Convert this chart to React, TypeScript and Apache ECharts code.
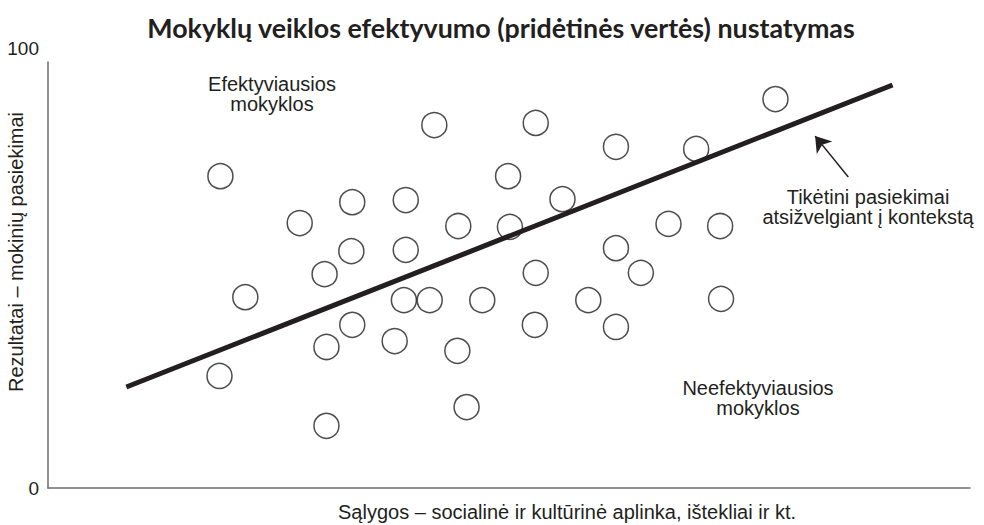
import React, { useEffect, useRef } from "react";
import * as echarts from "echarts";

const titleText = "Mokyklų veiklos efektyvumo (pridėtinės vertės) nustatymas";
const xAxisName = "Sąlygos – socialinė ir kultūrinė aplinka, ištekliai ir kt.";
const yAxisName = "Rezultatai – mokinių pasiekimai";
const yTicks = [0, 100];

const schoolX = [
  18.7, 21.4, 18.6, 27.3, 33.0, 32.9, 30.0, 30.2, 33.0, 30.2,
  38.8, 38.8, 38.6, 41.4, 37.6, 41.9, 44.5, 47.1, 44.4, 45.4,
  52.9, 49.9, 50.1, 55.8, 52.9, 52.8, 58.6, 61.6, 61.6, 64.3,
  61.6, 67.3, 70.3, 72.9, 73.0, 78.9,
];
const schoolY = [
  73.2, 44.8, 26.3, 62.2, 67.1, 55.6, 50.2, 33.1, 38.3, 14.6,
  67.6, 55.9, 44.1, 44.1, 34.5, 85.2, 61.5, 44.1, 32.2, 19.0,
  85.7, 73.2, 61.3, 67.8, 50.5, 38.3, 44.1, 80.1, 56.3, 50.5,
  37.8, 62.0, 79.6, 61.5, 44.4, 91.3,
];

const trendX = [8.5, 91.6];
const trendY = [23.7, 94.6];

const arrowFrom = [86.8, 73.0];
const arrowTo = [83.2, 82.6];

const labelTop = "Efektyviausios\nmokyklos";
const labelBottom = "Neefektyviausios\nmokyklos";
const labelLine = "Tikėtini pasiekimai\natsižvelgiant į kontekstą";

const INK = "#231f20";
const AXIS = "#6d6d6d";
const FONT = "Liberation Sans";

export default function App() {
  const ref = useRef<HTMLDivElement>(null);

  useEffect(() => {
    if (!ref.current) return;
    const chart = echarts.init(ref.current, null, { renderer: "svg" });
    const points = schoolX.map((x, i) => [x, schoolY[i]]);
    const trend = trendX.map((x, i) => [x, trendY[i]]);

    chart.setOption({
      animation: false,
      backgroundColor: "#ffffff",
      textStyle: { fontFamily: FONT },
      title: {
        text: titleText,
        left: 496,
        top: 9,
        textAlign: "center",
        textStyle: {
          fontFamily: "Lato",
          fontWeight: "bold",
          fontSize: 26.8,
          color: INK,
        },
      },
      grid: {
        left: 48,
        right: 14,
        top: 62,
        bottom: 37,
        containLabel: false,
        outerBoundsMode: "none",
      },
      xAxis: {
        type: "value",
        min: 0,
        max: 100,
        name: xAxisName,
        nameLocation: "middle",
        nameGap: 14,
        nameMoveOverlap: false,
        nameTextStyle: {
          fontFamily: FONT,
          fontSize: 20,
          color: INK,
          padding: [0, 0, 0, 116],
        },
        axisLine: { show: true, lineStyle: { color: AXIS, width: 1.5 } },
        axisTick: { show: false },
        axisLabel: { show: false },
        splitLine: { show: false },
      },
      yAxis: {
        type: "value",
        min: yTicks[0],
        max: yTicks[yTicks.length - 1],
        interval: 100,
        name: yAxisName,
        nameLocation: "middle",
        nameGap: 22,
        nameMoveOverlap: false,
        nameTextStyle: {
          fontFamily: FONT,
          fontSize: 20,
          color: INK,
          padding: [0, 0, 0, 46],
        },
        axisLine: { show: true, lineStyle: { color: AXIS, width: 1.5 } },
        axisTick: { show: false },
        splitLine: { show: false },
        axisLabel: {
          margin: 9,
          fontFamily: FONT,
          fontSize: 19,
          color: INK,
          formatter: (v: number) => (v === yTicks[1] ? "{top|" + v + "}" : "{base|" + v + "}"),
          rich: {
            top: { fontFamily: FONT, fontSize: 19, color: INK, padding: [0, 0, 28, 0] },
            base: { fontFamily: FONT, fontSize: 19, color: INK },
          },
        },
      },
      graphic: [
        {
          type: "text",
          x: 272,
          y: 74,
          silent: true,
          style: {
            text: labelTop,
            fontFamily: FONT,
            fontSize: 20,
            lineHeight: 20,
            fill: INK,
            align: "center",
            verticalAlign: "top",
          },
        },
        {
          type: "text",
          x: 868,
          y: 187,
          silent: true,
          style: {
            text: labelLine,
            fontFamily: FONT,
            fontSize: 20,
            lineHeight: 20,
            fill: INK,
            align: "center",
            verticalAlign: "top",
          },
        },
        {
          type: "text",
          x: 758,
          y: 378,
          silent: true,
          style: {
            text: labelBottom,
            fontFamily: FONT,
            fontSize: 20,
            lineHeight: 20,
            fill: INK,
            align: "center",
            verticalAlign: "top",
          },
        },
      ],
      series: [
        {
          type: "scatter",
          data: points,
          symbol: "circle",
          symbolSize: 25,
          silent: true,
          z: 2,
          itemStyle: { color: "rgba(255,255,255,0)", borderColor: INK, borderWidth: 1.5 },
          markLine: {
            silent: true,
            symbol: ["none", "arrow"],
            symbolSize: 15,
            label: { show: false },
            lineStyle: { color: INK, width: 1.5, type: "solid" },
            data: [[{ coord: arrowFrom }, { coord: arrowTo }]],
          },
        },
        {
          type: "line",
          data: trend,
          symbol: "none",
          silent: true,
          z: 3,
          lineStyle: { color: INK, width: 5, cap: "butt" },
        },
      ],
    });

    return () => chart.dispose();
  }, []);

  return (
    <div
      ref={ref}
      style={{ position: "fixed", left: 0, top: 0, width: 984, height: 525, background: "#fff" }}
    />
  );
}
